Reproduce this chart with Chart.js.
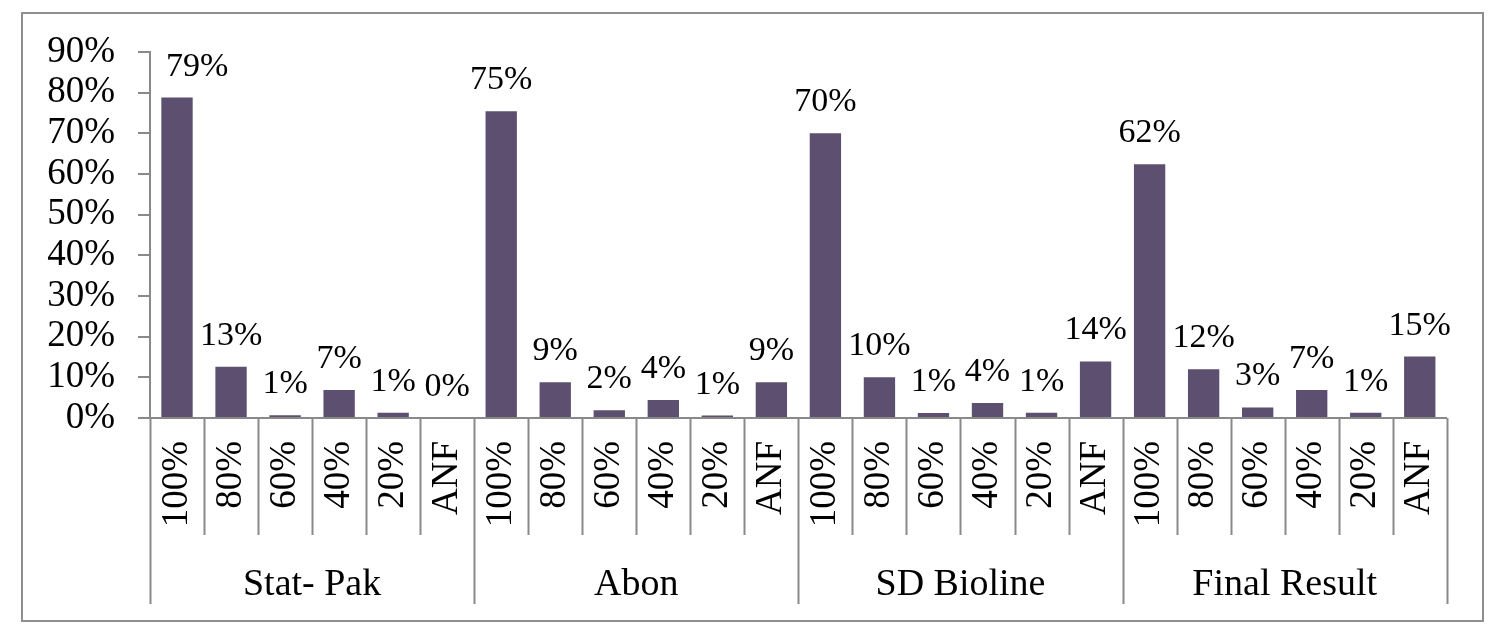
<!DOCTYPE html>
<html>
<head>
<meta charset="utf-8">
<script src="https://cdn.jsdelivr.net/npm/chart.js@4/dist/chart.umd.min.js"></script>
<style>
  html, body { margin: 0; padding: 0; background: #fff; }
  #wrap { position: absolute; left: 0; top: 0; width: 1488px; height: 633px; }
</style>
</head>
<body>
<div id="wrap"><canvas id="myChart" width="1488" height="633"></canvas></div>
<script>
// tick labels under each bar, repeated for each kit
const tickLabels = ['100%', '80%', '60%', '40%', '20%', 'ANF'];
const groups = ['Stat- Pak', 'Abon', 'SD Bioline', 'Final Result'];

// bar heights in percent
const statPak = [78.8, 12.6, 0.7, 6.9, 1.3, 0];
const abon = [75.4, 8.8, 1.9, 4.4, 0.6, 8.8];
const sdBioline = [70.0, 10.0, 1.2, 3.7, 1.3, 13.9];
const finalResult = [62.4, 12.0, 2.6, 6.9, 1.3, 15.1];

const yTicks = [0, 10, 20, 30, 40, 50, 60, 70, 80, 90];

const values = [...statPak, ...abon, ...sdBioline, ...finalResult];
const labels = groups.flatMap(() => tickLabels);

const FONT = "'Liberation Serif', 'Times New Roman', serif";
const GREY = '#898989';
Chart.defaults.font.family = FONT;
Chart.defaults.color = '#000';

// frame round the whole picture
const framePlugin = {
  id: 'frame',
  beforeDraw(chart) {
    const ctx = chart.ctx;
    ctx.save();
    ctx.fillStyle = '#fff';
    ctx.fillRect(0, 0, chart.width, chart.height);
    ctx.strokeStyle = '#8e8e8e';
    ctx.lineWidth = 2;
    ctx.strokeRect(22, 13, 1461, 608);
    ctx.restore();
  }
};

// value labels above bars (kept clear of the y axis)
const valueLabels = {
  id: 'valueLabels',
  afterDatasetsDraw(chart) {
    const ctx = chart.ctx;
    const meta = chart.getDatasetMeta(0);
    const left = chart.chartArea.left + 16;
    ctx.save();
    ctx.font = '34px ' + FONT;
    ctx.fillStyle = '#000';
    ctx.textAlign = 'center';
    ctx.textBaseline = 'alphabetic';
    meta.data.forEach((bar, i) => {
      const txt = Math.round(values[i]) + '%';
      const w = ctx.measureText(txt).width;
      const cx = Math.max(bar.x, left + w / 2);
      ctx.fillText(txt, cx, bar.y - 22);
    });
    ctx.restore();
  }
};

// separators and kit names below the axis
const groupAxis = {
  id: 'groupAxis',
  afterDraw(chart) {
    const ctx = chart.ctx;
    const x = chart.scales.x;
    const y0 = chart.chartArea.bottom;
    const n = labels.length;
    const edge = i => {
      if (i === 0) return x.left;
      if (i === n) return x.right;
      return (x.getPixelForValue(i - 1) + x.getPixelForValue(i)) / 2;
    };
    ctx.save();
    ctx.strokeStyle = GREY;
    ctx.lineWidth = 2;
    for (let i = 0; i <= n; i++) {
      const px = Math.round(edge(i)) + 0.5;
      ctx.beginPath();
      ctx.moveTo(px, y0);
      ctx.lineTo(px, i % tickLabels.length === 0 ? y0 + 186 : y0 + 117);
      ctx.stroke();
    }
    ctx.font = '38px ' + FONT;
    ctx.fillStyle = '#000';
    ctx.textAlign = 'center';
    ctx.textBaseline = 'alphabetic';
    groups.forEach((g, k) => {
      const a = edge(k * tickLabels.length);
      const b = edge((k + 1) * tickLabels.length);
      ctx.fillText(g, (a + b) / 2, y0 + 177);
    });
    ctx.restore();
  }
};

const ctx = document.getElementById('myChart').getContext('2d');
new Chart(ctx, {
  type: 'bar',
  data: {
    labels: labels,
    datasets: [{
      data: values,
      backgroundColor: '#5d4f6f',
      borderWidth: 0,
      barPercentage: 0.58,
      categoryPercentage: 1
    }]
  },
  options: {
    responsive: false,
    animation: false,
    devicePixelRatio: 1,
    layout: { padding: { left: 0, right: 40, top: 52, bottom: 0 } },
    plugins: {
      legend: { display: false },
      tooltip: { enabled: false }
    },
    scales: {
      x: {
        offset: true,
        grid: { display: false, drawTicks: false },
        border: { display: true, color: GREY, width: 2 },
        ticks: {
          autoSkip: false,
          maxRotation: 90,
          minRotation: 90,
          padding: 23,
          color: '#000',
          font: { size: 37, family: FONT }
        },
        afterFit(scale) { scale.height = 215; }
      },
      y: {
        min: 0,
        max: 90,
        afterBuildTicks(scale) { scale.ticks = yTicks.map(v => ({ value: v })); },
        grid: { drawOnChartArea: false, drawTicks: true, tickLength: 12, color: GREY, lineWidth: 2 },
        border: { display: true, color: GREY, width: 2 },
        ticks: {
          autoSkip: false,
          padding: 23,
          color: '#000',
          font: { size: 37, family: FONT },
          callback: v => v + '%'
        },
        afterFit(scale) { scale.width = 150; }
      }
    }
  },
  plugins: [framePlugin, valueLabels, groupAxis]
});
</script>
</body>
</html>
